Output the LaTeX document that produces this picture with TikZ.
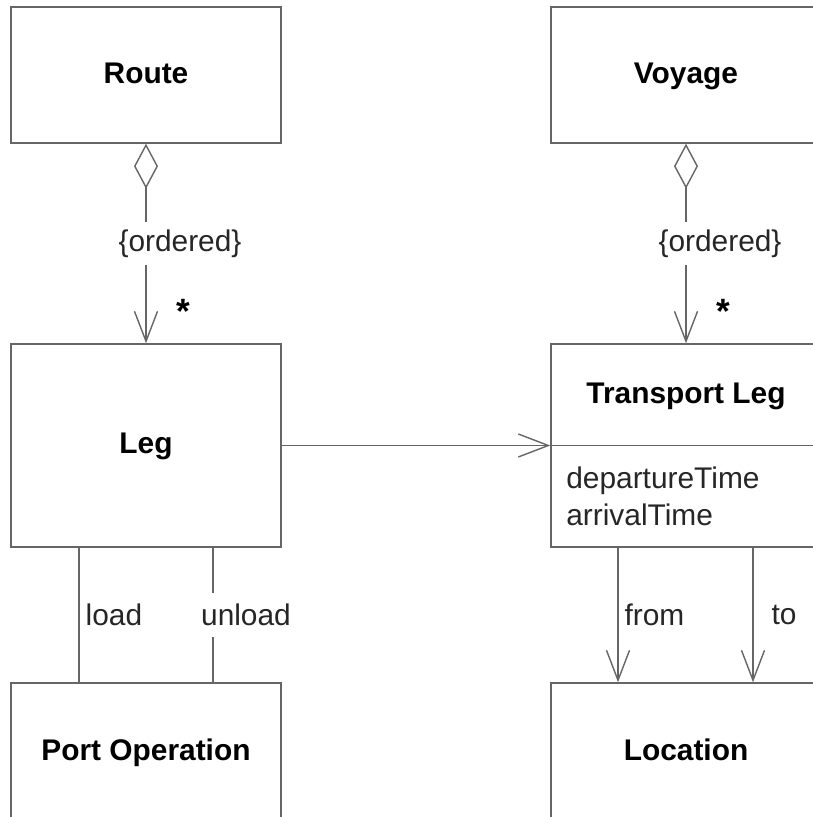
\documentclass[tikz,border=0pt]{standalone}
\usepackage{fontspec}
\setmainfont{Liberation Sans}
\usetikzlibrary{arrows.meta}

\tikzset{
  classbox/.style={draw=black!60, line width=0.8pt, minimum width=5.4cm, inner sep=0pt,
    text height=0.96em, text depth=0pt, font=\fontsize{17}{21}\selectfont\bfseries},
  assoc/.style={draw=black!60, line width=0.8pt},
  lbl/.style={font=\fontsize{17}{21}\selectfont, text=black!85},
  mult/.style={font=\fontsize{20}{22}\selectfont\bfseries},
  navig/.style={-{Straight Barb[length=6mm,width=4.6mm]}},
  aggr/.style={{Diamond[open,length=9mm,width=4.8mm]}-{Straight Barb[length=6mm,width=4.6mm]}}
}

\begin{document}
\begin{tikzpicture}
\useasboundingbox (0,0) rectangle (16.24,16.34);

\node[classbox, minimum height=2.72cm] (route) at (2.92,14.84) {Route};
\node[classbox, minimum height=2.72cm] (voyage) at (13.72,14.84) {Voyage};
\node[classbox, minimum height=4.06cm] (leg) at (2.92,7.43) {Leg};
\node[classbox, minimum height=4.06cm] (tleg) at (13.72,7.43) {};
\node[classbox, minimum height=2.76cm] (portop) at (2.92,1.30) {Port Operation};
\node[classbox, minimum height=2.76cm] (location) at (13.72,1.30) {Location};

% transport leg compartments
\draw[assoc] (tleg.west) -- (tleg.east);
\node[font=\fontsize{17}{21}\selectfont\bfseries, text height=0.96em, text depth=0pt] (tlegname) at (13.72,8.44) {Transport Leg};
\node[lbl, anchor=west, align=left, inner sep=0pt] (tlegattr) at (11.32,6.41) {departureTime\\arrivalTime};

\draw[assoc, aggr] (route) -- (leg)
  node[lbl, midway, fill=white, inner xsep=2pt, inner ysep=4.5pt, xshift=0.68cm] (ord1) {\{ordered\}};
\draw[assoc, aggr] (voyage) -- (tleg)
  node[lbl, midway, fill=white, inner xsep=2pt, inner ysep=4.5pt, xshift=0.68cm] (ord2) {\{ordered\}};
\node[mult] (star1) at (3.66,10.12) {*};
\node[mult] (star2) at (14.46,10.12) {*};

\draw[assoc, navig] (leg.east) -- (tleg.west);

\draw[assoc] ([xshift=-1.34cm]leg.south) -- ([xshift=-1.34cm]portop.north)
  node[lbl, midway, right, inner xsep=0.12cm] (load) {load};
\draw[assoc] ([xshift=1.34cm]leg.south) -- ([xshift=1.34cm]portop.north)
  node[lbl, midway, fill=white, inner xsep=1pt, inner ysep=6pt, xshift=0.66cm] (unload) {unload};

\draw[assoc, navig] ([xshift=-1.36cm]tleg.south) -- ([xshift=-1.36cm]location.north)
  node[lbl, midway, right] (from) {from};
\draw[assoc, navig] ([xshift=1.34cm]tleg.south) -- ([xshift=1.34cm]location.north)
  node[lbl, midway, right, xshift=0.24cm] (to) {to};
\end{tikzpicture}
\end{document}
